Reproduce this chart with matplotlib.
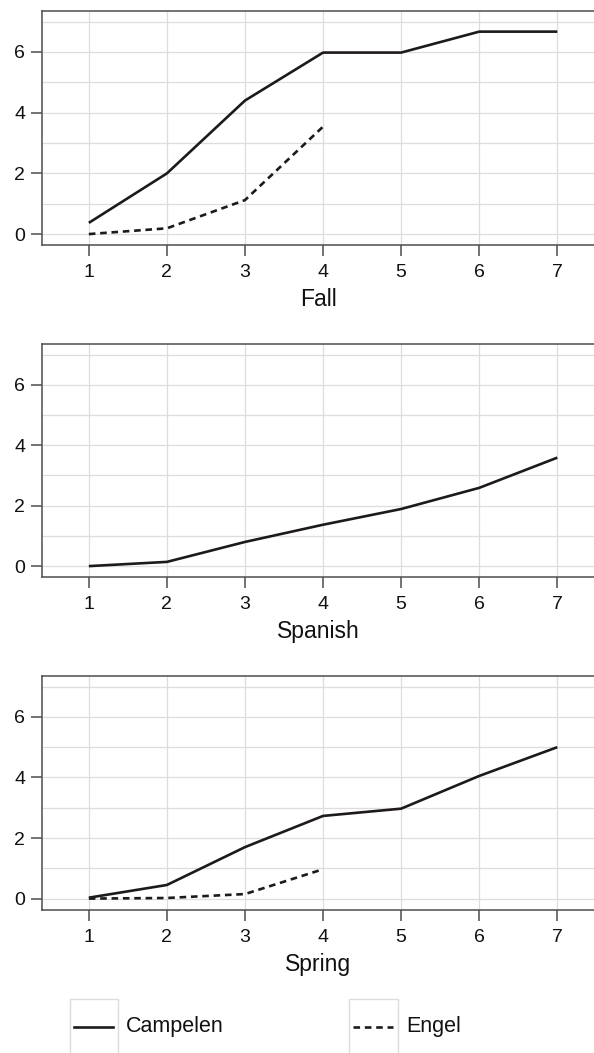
import matplotlib
matplotlib.use("Agg")
import matplotlib.pyplot as plt
from matplotlib.patches import Rectangle
from matplotlib.lines import Line2D
from matplotlib.ticker import MultipleLocator

plt.rcParams['font.family'] = ['Liberation Sans', 'DejaVu Sans']

x_vals = [1, 2, 3, 4, 5, 6, 7]
x_engel = [1, 2, 3, 4]
panels = ["Fall", "Spanish", "Spring"]
series_names = ["Campelen", "Engel"]

fall_campelen = [0.37, 2.0, 4.4, 5.98, 5.98, 6.67, 6.67]
fall_engel = [0.0, 0.19, 1.12, 3.54]
spanish_campelen = [0.0, 0.14, 0.8, 1.37, 1.89, 2.59, 3.59]
spring_campelen = [0.03, 0.45, 1.70, 2.73, 2.97, 4.05, 5.0]
spring_engel = [0.0, 0.02, 0.15, 0.97]

campelen = [fall_campelen, spanish_campelen, spring_campelen]
engel = [fall_engel, None, spring_engel]

W, H = 594, 1053
fig = plt.figure(figsize=(W / 100, H / 100), dpi=100)

# (top, bottom) pixel positions of each panel
boxes = [(11, 245), (344, 577), (676, 909.5)]
left_px, right_px = 42, 594
line_col = "#1e1a1b"
spine_col = "#4d4d4d"
dash = (0, (2.5, 1.8))
LW = 1.9

for i, (top, bot) in enumerate(boxes):
    ax = fig.add_axes([left_px / W, 1 - bot / H, (right_px - left_px) / W, (bot - top) / H])
    ax.plot(x_vals, campelen[i], color=line_col, lw=LW, solid_capstyle='butt')
    if engel[i] is not None:
        ax.plot(x_engel, engel[i], color=line_col, lw=LW, linestyle=dash)
    ax.set_xlim(0.4, 7.47)
    ax.set_ylim(-0.36, 7.35)
    ax.set_xticks(x_vals)
    ax.set_yticks([0, 2, 4, 6])
    ax.yaxis.set_minor_locator(MultipleLocator(1))
    ax.grid(True, which='major', color='#dddddd', lw=0.9)
    ax.grid(True, which='minor', axis='y', color='#dddddd', lw=0.9)
    ax.tick_params(which='minor', length=0)
    ax.tick_params(which='major', length=8, width=1.1, color=spine_col,
                   labelsize=14, labelcolor='#111111')
    ax.tick_params(axis='x', pad=6)
    ax.tick_params(axis='y', pad=4)
    ax.set_axisbelow(True)
    for s in ['left', 'top', 'bottom']:
        ax.spines[s].set_color(spine_col)
        ax.spines[s].set_linewidth(1.1)
    ax.spines['right'].set_visible(False)
    ax.set_xlabel(panels[i], fontsize=16.5, labelpad=5, color='#111111')

# Legend (drawn manually, Stata-like keys)
key_boxes = [(70, 118), (349, 398)]
styles = ['-', dash]
for (x0, x1), name, ls in zip(key_boxes, series_names, styles):
    fig.add_artist(Rectangle((x0 / W, -0.01), (x1 - x0) / W, (H - 999) / H + 0.01,
                             transform=fig.transFigure, fill=False,
                             edgecolor='#dcdcdc', lw=1.0))
    fig.add_artist(Line2D([(x0 + 4) / W, (x1 - 5) / W], [1 - 1026.5 / H] * 2,
                          transform=fig.transFigure, color=line_col, lw=LW,
                          linestyle=ls))
    fig.text((x1 + 8) / W, 1 - 1026.5 / H, name, fontsize=15.5,
             va='center', ha='left', color='#111111')

fig.savefig("out.png", dpi=100)
